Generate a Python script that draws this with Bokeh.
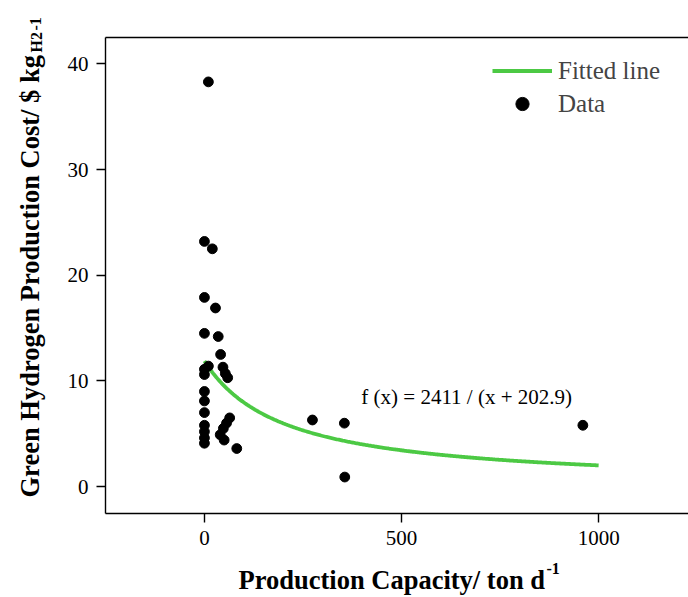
import math
import numpy as np
from bokeh.plotting import figure
from bokeh.layouts import row, column
from bokeh.core.properties import value
from bokeh.models import (Range1d, FixedTicker, Legend, LegendItem, Label,
                          LinearAxis, ColumnDataSource)
from bokeh.embed import file_html
from bokeh.resources import INLINE

# ---- data ----
capacity = [10, 0, 20, 0, 28, 0, 35, 41, 10, 0, 0, 47, 53, 59,
            0, 0, 0, 0, 0, 0, 0, 64, 56, 48, 40, 50, 82,
            274, 355, 356, 960]
cost = [38.3, 23.2, 22.5, 17.9, 16.9, 14.5, 14.2, 12.5, 11.4, 11.1, 10.6, 11.3, 10.7, 10.3,
        9.0, 8.1, 7.0, 5.8, 5.2, 4.6, 4.1, 6.5, 6.0, 5.5, 4.9, 4.4, 3.6,
        6.3, 6.0, 0.9, 5.8]

# fitted model stated on the chart: f(x) = a / (x + b), drawn for 0..1000
fit_a = 2411
fit_b = 202.9
fit_x_start, fit_x_end = 0, 1000

x_ticks = [0, 500, 1000]
y_ticks = [0, 10, 20, 30, 40]

x_title = "Production Capacity/ ton d"
y_title = "Green Hydrogen Production Cost/ $ kg"
y_sub = "H2"
unit_sup = "-1"

FONT = "Liberation Serif"
GREEN = "#4cc944"

W, H = 688, 597
FRAME_L, FRAME_T, FRAME_B = 105, 37, 513
LEFT_W = 60            # width of the strip that holds the y title
BOTTOM_H = 37          # height of the strip that holds the x title
MAIN_W, MAIN_H = W - LEFT_W, H - BOTTOM_H

fit_x = np.linspace(fit_x_start, fit_x_end, 400)
fit_y = fit_a / (fit_x + fit_b)

p = figure(width=MAIN_W, height=MAIN_H, output_backend="svg", toolbar_location=None,
           x_range=Range1d(-251, 1228), y_range=Range1d(-2.55, 42.5),
           min_border_left=FRAME_L - LEFT_W, min_border_right=0, min_border_top=FRAME_T,
           min_border_bottom=MAIN_H - FRAME_B)
p.outline_line_color = None
p.xgrid.visible = False
p.ygrid.visible = False

for ax in (p.xaxis[0], p.yaxis[0]):
    ax.axis_line_width = 1.4
    ax.axis_line_color = "black"
    ax.major_tick_line_color = "black"
    ax.major_tick_line_width = 1.4
    ax.major_tick_in = 0
    ax.major_tick_out = 9
    ax.minor_tick_line_color = None
    ax.major_label_text_font = FONT
    ax.major_label_text_font_size = "21px"
    ax.major_label_text_color = "black"
    ax.major_label_standoff = 8

p.xaxis[0].ticker = FixedTicker(ticks=x_ticks)
p.yaxis[0].ticker = FixedTicker(ticks=y_ticks)

top_axis = LinearAxis(major_tick_line_color=None, minor_tick_line_color=None,
                      major_label_text_font_size="0px", axis_line_width=1.4,
                      axis_line_color="black", ticker=FixedTicker(ticks=[]))
p.add_layout(top_axis, "above")

line_r = p.line(fit_x, fit_y, line_color=GREEN, line_width=3.8)
pts = ColumnDataSource(dict(x=capacity, y=cost))
dot_r = p.scatter("x", "y", source=pts, size=9.8, fill_color="black", line_color="black")

legend = Legend(items=[LegendItem(label="Fitted line", renderers=[line_r]),
                       LegendItem(label="Data", renderers=[dot_r])],
                location=(387, 393), glyph_width=60, glyph_height=33,
                label_height=33, label_standoff=6, spacing=0, padding=0, margin=0,
                border_line_color=None, background_fill_alpha=0,
                label_text_font=FONT, label_text_font_size="25px")
p.add_layout(legend)

p.add_layout(Label(x=398, y=8.45, text=f"f (x) = {fit_a} / (x + {fit_b})",
                   text_font=FONT, text_font_size="21px", text_baseline="middle",
                   text_align="left", text_color="black"))


def strip(width, height, border_left, x0, y0):
    """A bare figure whose data units are canvas pixels of the whole page (y downwards)."""
    fw = width - border_left
    f = figure(width=width, height=height, output_backend="svg", toolbar_location=None,
               x_range=Range1d(x0, x0 + fw), y_range=Range1d(y0 + height, y0),
               x_axis_type=None, y_axis_type=None,
               min_border=0, min_border_left=border_left, min_border_right=0,
               min_border_top=0, min_border_bottom=0)
    f.outline_line_color = None
    f.xgrid.visible = False
    f.ygrid.visible = False
    return f


def put(f, x, y, text, size, angle=0.0):
    f.text(x=[x], y=[y], text=[text], angle=angle, text_font=value(FONT),
           text_font_size=size, text_font_style="bold", text_color="black",
           text_align="left", text_baseline="alphabetic")


# y title strip (page x 0..LEFT_W, y 0..H)
ys = strip(LEFT_W, H, 0, 0, 0)
put(ys, 29, 497, y_title, "26.5px", angle=math.pi / 2)
put(ys, 36, 52, y_sub, "16px", angle=math.pi / 2)
put(ys, 35, 30, unit_sup, "16px", angle=math.pi / 2)

# x title strip (frame aligned with the main frame: page x FRAME_L..W, y MAIN_H..H)
xs = strip(MAIN_W, BOTTOM_H, FRAME_L - LEFT_W, FRAME_L, MAIN_H)
put(xs, 238, 579, x_title, "26.5px")
put(xs, 546, 568, unit_sup, "16px")

layout = row(ys, column(p, xs, spacing=0), spacing=0)
open("out.html", "w").write(file_html(layout, INLINE))
